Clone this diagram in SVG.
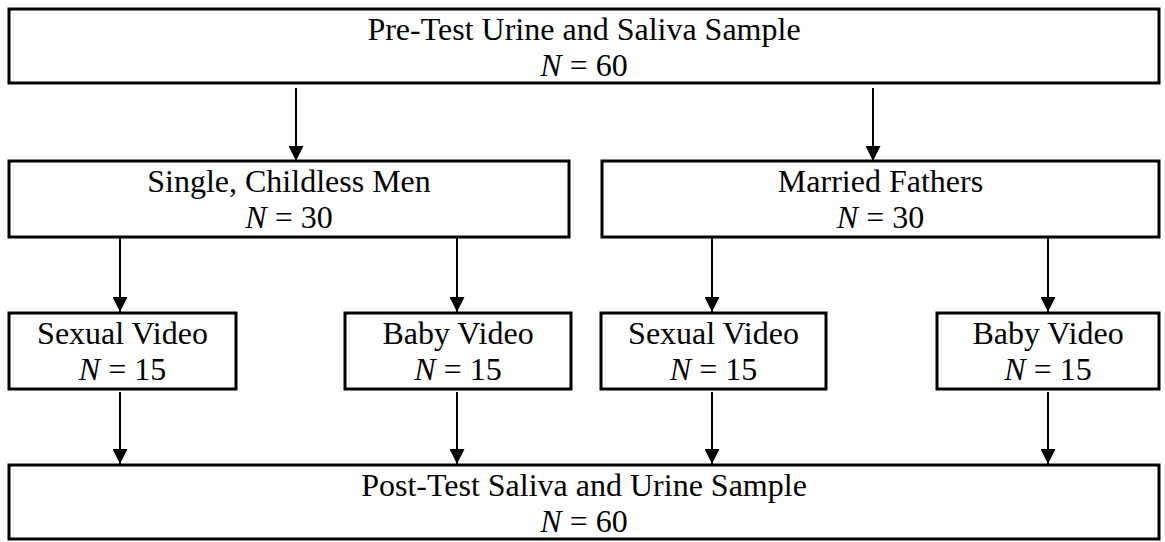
<svg xmlns="http://www.w3.org/2000/svg" width="1165" height="542" viewBox="0 0 1165 542">
<style>
  .box { fill: #ffffff; stroke: #000000; stroke-width: 3; }
  .lbl { font-family: "Liberation Serif", "Times New Roman", serif; font-size: 32px; fill: #000000; text-anchor: middle; }
  .it { font-style: italic; }
  .conn { stroke: #000000; stroke-width: 2; fill: none; marker-end: url(#arrow); }
</style>
<defs>
  <marker id="arrow" viewBox="0 0 15 15" refX="15" refY="7.5" markerWidth="15" markerHeight="15" markerUnits="userSpaceOnUse" orient="auto">
    <path d="M0,0 L15,7.5 L0,15 z" fill="#000000"/>
  </marker>
</defs>
<rect width="1165" height="542" fill="#ffffff"/>
<g id="connectors">
  <line class="conn" x1="296" y1="88" x2="296" y2="161"/>
  <line class="conn" x1="873" y1="88" x2="873" y2="161"/>
  <line class="conn" x1="120" y1="238" x2="120" y2="312"/>
  <line class="conn" x1="457" y1="238" x2="457" y2="312"/>
  <line class="conn" x1="712" y1="238" x2="712" y2="312"/>
  <line class="conn" x1="1048" y1="238" x2="1048" y2="312"/>
  <line class="conn" x1="120" y1="392" x2="120" y2="464"/>
  <line class="conn" x1="457" y1="392" x2="457" y2="464"/>
  <line class="conn" x1="712" y1="392" x2="712" y2="464"/>
  <line class="conn" x1="1048" y1="392" x2="1048" y2="464"/>
</g>
<g id="pretest">
  <rect class="box" x="9" y="9" width="1150" height="74"/>
  <text class="lbl" x="584" y="40">Pre-Test Urine and Saliva Sample</text>
  <text class="lbl" x="584" y="76"><tspan class="it">N</tspan> = 60</text>
</g>
<g id="single">
  <rect class="box" x="9" y="161" width="560" height="76"/>
  <text class="lbl" x="289" y="192">Single, Childless Men</text>
  <text class="lbl" x="289" y="228"><tspan class="it">N</tspan> = 30</text>
</g>
<g id="married">
  <rect class="box" x="602" y="161" width="557" height="76"/>
  <text class="lbl" x="880.5" y="192">Married Fathers</text>
  <text class="lbl" x="880.5" y="228"><tspan class="it">N</tspan> = 30</text>
</g>
<g id="single-sexual">
  <rect class="box" x="9" y="313" width="227" height="76"/>
  <text class="lbl" x="122.5" y="344">Sexual Video</text>
  <text class="lbl" x="122.5" y="380"><tspan class="it">N</tspan> = 15</text>
</g>
<g id="single-baby">
  <rect class="box" x="345" y="313" width="226" height="76"/>
  <text class="lbl" x="458" y="344">Baby Video</text>
  <text class="lbl" x="458" y="380"><tspan class="it">N</tspan> = 15</text>
</g>
<g id="married-sexual">
  <rect class="box" x="601" y="313" width="225" height="76"/>
  <text class="lbl" x="713.5" y="344">Sexual Video</text>
  <text class="lbl" x="713.5" y="380"><tspan class="it">N</tspan> = 15</text>
</g>
<g id="married-baby">
  <rect class="box" x="937" y="313" width="222" height="76"/>
  <text class="lbl" x="1048" y="344">Baby Video</text>
  <text class="lbl" x="1048" y="380"><tspan class="it">N</tspan> = 15</text>
</g>
<g id="posttest">
  <rect class="box" x="9" y="465" width="1150" height="74"/>
  <text class="lbl" x="584" y="496">Post-Test Saliva and Urine Sample</text>
  <text class="lbl" x="584" y="532"><tspan class="it">N</tspan> = 60</text>
</g>
</svg>
